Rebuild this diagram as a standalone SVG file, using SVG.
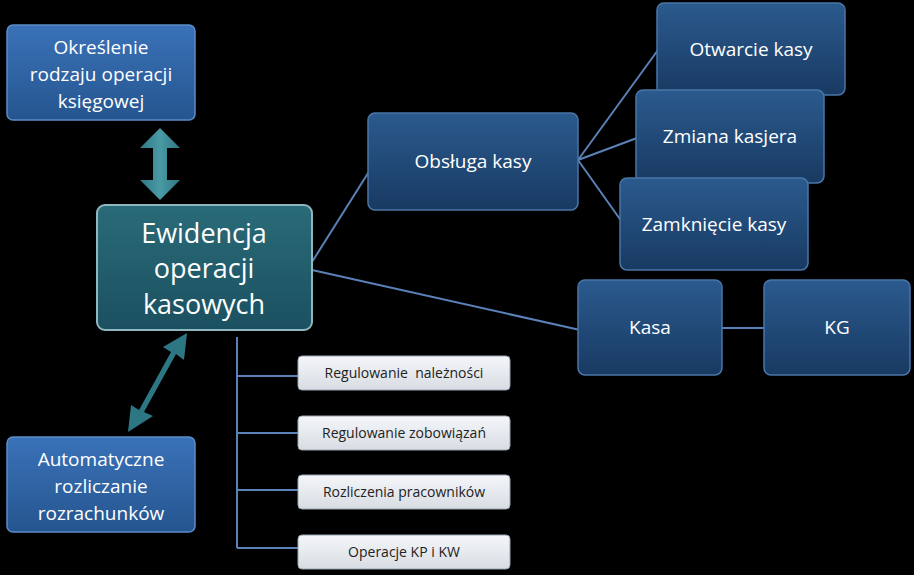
<svg xmlns="http://www.w3.org/2000/svg" width="914" height="575" viewBox="0 0 914 575">
<defs>
<linearGradient id="gb" x1="0" y1="0" x2="0" y2="1"><stop offset="0" stop-color="#3a72b8"/><stop offset="1" stop-color="#25558f"/></linearGradient>
<linearGradient id="gn" x1="0" y1="0" x2="0" y2="1"><stop offset="0" stop-color="#2b5a8e"/><stop offset="1" stop-color="#183a62"/></linearGradient>
<linearGradient id="gt" x1="0" y1="0" x2="0" y2="1"><stop offset="0" stop-color="#2a6b78"/><stop offset="1" stop-color="#1b5060"/></linearGradient>
<linearGradient id="gg" x1="0" y1="0" x2="0" y2="1"><stop offset="0" stop-color="#f4f6f9"/><stop offset="1" stop-color="#d8dde3"/></linearGradient>
<linearGradient id="ga" x1="0" y1="0" x2="1" y2="0"><stop offset="0" stop-color="#2d7683"/><stop offset="0.5" stop-color="#4a9aa6"/><stop offset="1" stop-color="#2d7683"/></linearGradient>
</defs>
<style>
.b{fill:url(#gb);stroke:#5b8cc8;stroke-width:1.5}
.n{fill:url(#gn);stroke:#4a76a8;stroke-width:1.5}
.t{fill:url(#gt);stroke:#8fb7bf;stroke-width:2}
.g{fill:url(#gg);stroke:#9aa4b0;stroke-width:1}
.w{fill:#fff;font-family:"Open Sans","Liberation Sans",sans-serif;text-anchor:middle}
.k{fill:#222;font-family:"Open Sans","Liberation Sans",sans-serif;font-size:14px;text-anchor:middle}
.l{stroke:#5a82b8;stroke-width:2;fill:none}
</style>
<rect width="914" height="575" fill="#000"/>
<g id="connectors">
<path class="l" d="M312 262 L370 170"/>
<path class="l" d="M312 270 L580 330"/>
<path class="l" d="M578 160 L658 50 M578 160 L637 138 M578 160 L622 222"/>
<path class="l" d="M722 328 L765 328"/>
<path class="l" d="M237 337 V548 M237 376 H298 M237 433 H298 M237 490 H298 M237 548 H298"/>
<path fill="url(#ga)" d="M160 128 L180 148 L167 148 L167 180 L180 180 L160 200 L140 180 L153 180 L153 148 L140 148 Z"/>
<path fill="#2d7683" d="M187 333 L184 360 L176 354 L144 412 L153 416 L128 432 L131 405 L139 410 L171 352 L163 347 Z"/>
</g>
<g id="n1"><rect class="b" x="7" y="25" width="188" height="95" rx="6"/><text class="w" font-size="19"><tspan x="101" y="54">Określenie</tspan><tspan x="101" y="81">rodzaju operacji</tspan><tspan x="101" y="108">księgowej</tspan></text></g>
<g id="main"><rect class="t" x="97" y="205" width="215" height="125" rx="8"/><text class="w" font-size="27"><tspan x="204" y="243">Ewidencja</tspan><tspan x="204" y="278">operacji</tspan><tspan x="204" y="314">kasowych</tspan></text></g>
<g id="n3"><rect class="b" x="7" y="437" width="188" height="95" rx="6"/><text class="w" font-size="19"><tspan x="101" y="466">Automatyczne</tspan><tspan x="101" y="493">rozliczanie</tspan><tspan x="101" y="520">rozrachunków</tspan></text></g>
<g id="obs"><rect class="n" x="368" y="113" width="210" height="97" rx="7"/><text class="w" font-size="19" x="473" y="168">Obsługa kasy</text></g>
<g id="otw"><rect class="n" x="657" y="3" width="188" height="92" rx="7"/><text class="w" font-size="19" x="751" y="56">Otwarcie kasy</text></g>
<g id="zm"><rect class="n" x="636" y="90" width="188" height="93" rx="7"/><text class="w" font-size="19" x="730" y="143">Zmiana kasjera</text></g>
<g id="zam"><rect class="n" x="620" y="178" width="188" height="92" rx="7"/><text class="w" font-size="19" x="714" y="231">Zamknięcie kasy</text></g>
<g id="kasa"><rect class="n" x="578" y="280" width="144" height="95" rx="7"/><text class="w" font-size="19" x="650" y="334">Kasa</text></g>
<g id="kg"><rect class="n" x="764" y="280" width="146" height="95" rx="7"/><text class="w" font-size="19" x="837" y="334">KG</text></g>
<g id="s1"><rect class="g" x="298" y="356" width="212" height="34" rx="4"/><text class="k" x="404" y="378" xml:space="preserve">Regulowanie  należności</text></g>
<g id="s2"><rect class="g" x="298" y="416" width="212" height="34" rx="4"/><text class="k" x="404" y="438">Regulowanie zobowiązań</text></g>
<g id="s3"><rect class="g" x="298" y="475" width="212" height="34" rx="4"/><text class="k" x="404" y="497">Rozliczenia pracowników</text></g>
<g id="s4"><rect class="g" x="298" y="535" width="212" height="34" rx="4"/><text class="k" x="404" y="557">Operacje KP i KW</text></g>
</svg>
